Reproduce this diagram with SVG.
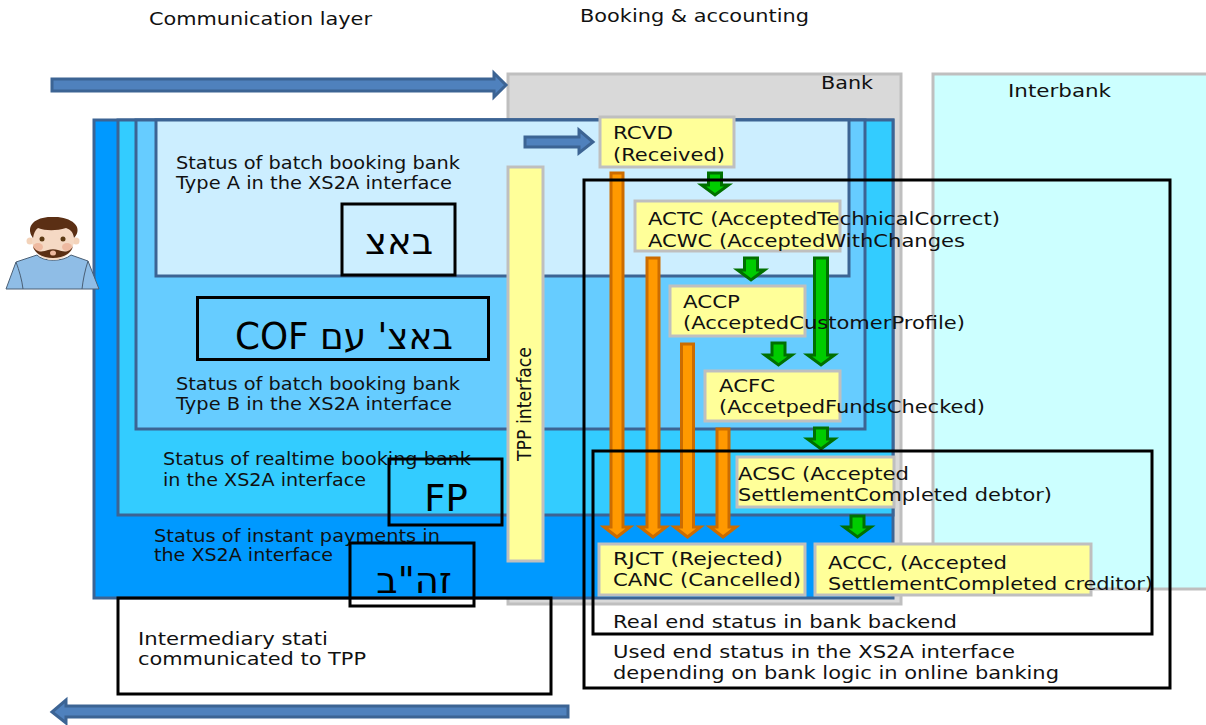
<svg xmlns="http://www.w3.org/2000/svg" width="1206" height="725" viewBox="0 0 1206 725">
<style>
text{font-family:"DejaVu Sans",sans-serif;font-size:17px;fill:#111}
.b{font-size:18px}
.he{font-size:37px;fill:#000}
.lay{stroke:#3c6494;stroke-width:3}
.gr{fill:#d9d9d9;stroke:#bfbfbf;stroke-width:3}
.y{fill:#ffff99;stroke:#bfbfbf;stroke-width:3}
.bl{fill:#4f81bd;stroke:#3c6494;stroke-width:3}
.or{fill:#ff9900;stroke:#cc6c00;stroke-width:3}
.g{fill:#00cc00;stroke:#007000;stroke-width:3}
.k{fill:none;stroke:#000;stroke-width:3}
</style>
<g id="bank"><rect class="gr" x="508" y="74" width="393" height="530"/><text class="b" x="821" y="89" textLength="52" lengthAdjust="spacingAndGlyphs">Bank</text></g>
<g id="interbank"><rect x="933" y="74" width="280" height="515" fill="#ccffff" stroke="#bfbfbf" stroke-width="3"/><text class="b" x="1008" y="97" textLength="103" lengthAdjust="spacingAndGlyphs">Interbank</text></g>
<g id="layers">
<rect class="lay" x="94" y="120" width="799" height="478" fill="#0099ff"/>
<rect class="lay" x="118" y="120" width="775" height="395" fill="#33ccff"/>
<rect class="lay" x="136" y="120" width="729" height="309" fill="#66ccff"/>
<rect class="lay" x="156" y="120" width="693" height="156" fill="#cceeff"/>
</g>
<g id="layer-labels">
<text x="176" y="169" textLength="284" lengthAdjust="spacingAndGlyphs">Status of batch booking bank</text><text x="176" y="189" textLength="276" lengthAdjust="spacingAndGlyphs">Type A in the XS2A interface</text>
<text x="176" y="390" textLength="284" lengthAdjust="spacingAndGlyphs">Status of batch booking bank</text><text x="176" y="410" textLength="276" lengthAdjust="spacingAndGlyphs">Type B in the XS2A interface</text>
<text x="163" y="465" textLength="308" lengthAdjust="spacingAndGlyphs">Status of realtime booking bank</text><text x="163" y="486" textLength="203" lengthAdjust="spacingAndGlyphs">in the XS2A interface</text>
<text x="154" y="542" textLength="286" lengthAdjust="spacingAndGlyphs">Status of instant payments in</text><text x="154" y="561" textLength="179" lengthAdjust="spacingAndGlyphs">the XS2A interface</text>
</g>
<g id="headers"><text class="b" x="149" y="25" textLength="223" lengthAdjust="spacingAndGlyphs">Communication layer</text><text class="b" x="580" y="22" textLength="229" lengthAdjust="spacingAndGlyphs">Booking &amp; accounting</text></g>
<g id="user">
<path d="M6 289L16 262 37 255C43 262 63 262 71 255L88 261 99 289Z" fill="#8fbde6" stroke="#4a5f75" stroke-width="1"/>
<path d="M16 262C19 270 22 280 23 289M88 261C85 270 83 280 82 289" stroke="#4a5f75" fill="none"/>
<circle cx="30" cy="241" r="3.500" fill="#f3d3ba"/><circle cx="76" cy="241" r="3.500" fill="#f3d3ba"/>
<ellipse cx="53" cy="240" rx="21" ry="20" fill="#f5d9c4"/>
<ellipse cx="38" cy="247" rx="5" ry="4" fill="#eeb9a0"/><ellipse cx="67" cy="247" rx="5" ry="4" fill="#eeb9a0"/>
<path d="M33 246C36 262 70 262 73 246 70 253 63 252 58 250 55 249 51 249 48 250 43 252 36 253 33 246Z" fill="#5b2f14"/>
<ellipse cx="53" cy="253" rx="3" ry="2.500" fill="#eeb9a0"/>
<path d="M33 238C24 225 37 216 53 217 69 216 85 226 74 238 73 232 71 230 66 228 56 231 46 231 38 228 35 230 34 233 33 238Z" fill="#5b2f14"/>
<circle cx="42" cy="239" r="2.500" fill="#5b3a14"/><circle cx="63" cy="239" r="2.500" fill="#5b3a14"/>
</g>
<g id="connectors">
<path class="bl" d="M52 79H494V73L506 85 494 97V91H52Z"/>
<path class="bl" d="M525 137H579V130L593 142 579 153V147H525Z"/>
<path class="bl" d="M568 706H66V700L52 712 66 723V717H568Z"/>
<path class="or" d="M611 173H623V527H630L617 537 604 527H611Z"/>
<path class="or" d="M647 258H659V527H666L653 537 640 527H647Z"/>
<path class="or" d="M681.500 344H693.500V527H700.500L687.500 537 674.500 527H681.500Z"/>
<path class="or" d="M717 429H729V527H736L723 537 710 527H717Z"/>
<path class="g" d="M708.500 173H721.500V185H728.500L715 195 701.500 185H708.500Z"/>
<path class="g" d="M744.500 258H757.500V270H764.500L751 280 737.500 270H744.500Z"/>
<path class="g" d="M772 343H785V355H792L778.500 365 765 355H772Z"/>
<path class="g" d="M814.500 258H827.500V355H834.500L821 365 807.500 355H814.500Z"/>
<path class="g" d="M814.500 428H827.500V439H834.500L821 449 807.500 439H814.500Z"/>
<path class="g" d="M851 516H864V527H871L857.500 537 844 527H851Z"/>
</g>
<g id="tpp"><rect class="y" x="508" y="167" width="35" height="394"/><text transform="translate(531 461) rotate(-90)" style="font-size:19px" textLength="114" lengthAdjust="spacingAndGlyphs">TPP interface</text></g>
<g id="rcvd"><rect class="y" x="600" y="117" width="134" height="50"/><text class="b" x="613" y="139" textLength="60" lengthAdjust="spacingAndGlyphs">RCVD</text><text class="b" x="613" y="161" textLength="112" lengthAdjust="spacingAndGlyphs">(Received)</text></g>
<g id="actc"><rect class="y" x="635" y="201" width="205" height="50"/><text class="b" x="648" y="225" textLength="352" lengthAdjust="spacingAndGlyphs">ACTC (AcceptedTechnicalCorrect)</text><text class="b" x="648" y="247" textLength="317" lengthAdjust="spacingAndGlyphs">ACWC (AcceptedWithChanges</text></g>
<g id="accp"><rect class="y" x="670" y="286" width="135" height="50"/><text class="b" x="683" y="308" textLength="57" lengthAdjust="spacingAndGlyphs">ACCP</text><text class="b" x="683" y="329" textLength="282" lengthAdjust="spacingAndGlyphs">(AcceptedCustomerProfile)</text></g>
<g id="acfc"><rect class="y" x="705" y="371" width="135" height="50"/><text class="b" x="719" y="392" textLength="56" lengthAdjust="spacingAndGlyphs">ACFC</text><text class="b" x="719" y="413" textLength="266" lengthAdjust="spacingAndGlyphs">(AccetpedFundsChecked)</text></g>
<g id="acsc"><rect class="y" x="737" y="457" width="157" height="50"/><text class="b" x="738" y="480" textLength="171" lengthAdjust="spacingAndGlyphs">ACSC (Accepted</text><text class="b" x="738" y="501" textLength="314" lengthAdjust="spacingAndGlyphs">SettlementCompleted debtor)</text></g>
<g id="rjct"><rect class="y" x="599" y="544" width="206" height="51"/><text class="b" x="613" y="565" textLength="170" lengthAdjust="spacingAndGlyphs">RJCT (Rejected)</text><text class="b" x="613" y="586" textLength="188" lengthAdjust="spacingAndGlyphs">CANC (Cancelled)</text></g>
<g id="accc"><rect class="y" x="815" y="544" width="276" height="51"/><text class="b" x="828" y="569" textLength="179" lengthAdjust="spacingAndGlyphs">ACCC, (Accepted</text><text class="b" x="828" y="590" textLength="325" lengthAdjust="spacingAndGlyphs">SettlementCompleted creditor)</text></g>
<g id="frames">
<rect class="k" x="584" y="180" width="586" height="508"/>
<rect class="k" x="593" y="451" width="559" height="183"/>
<rect class="k" x="118" y="598" width="433" height="96"/>
<rect class="k" x="342" y="204" width="113" height="71"/>
<rect class="k" x="197.500" y="297.500" width="291" height="62"/>
<rect class="k" x="389" y="459" width="113" height="66"/>
<rect class="k" x="350" y="543" width="124" height="63"/>
</g>
<g id="frame-labels">
<text class="he" x="399" y="254" text-anchor="middle" direction="rtl">באצ</text>
<text class="he" x="344" y="349" text-anchor="middle" direction="rtl" textLength="218" lengthAdjust="spacingAndGlyphs">באצ' עם COF</text>
<text class="he" x="446" y="511" text-anchor="middle">FP</text>
<text class="he" x="414" y="593" text-anchor="middle" direction="rtl">זה"ב</text>
<text class="b" x="138" y="645" textLength="190" lengthAdjust="spacingAndGlyphs">Intermediary stati</text><text class="b" x="138" y="665" textLength="228" lengthAdjust="spacingAndGlyphs">communicated to TPP</text>
<text class="b" x="613" y="628" textLength="344" lengthAdjust="spacingAndGlyphs">Real end status in bank backend</text>
<text class="b" x="613" y="658" textLength="402" lengthAdjust="spacingAndGlyphs">Used end status in the XS2A interface</text><text class="b" x="613" y="679" textLength="446" lengthAdjust="spacingAndGlyphs">depending on bank logic in online banking</text>
</g>
</svg>
